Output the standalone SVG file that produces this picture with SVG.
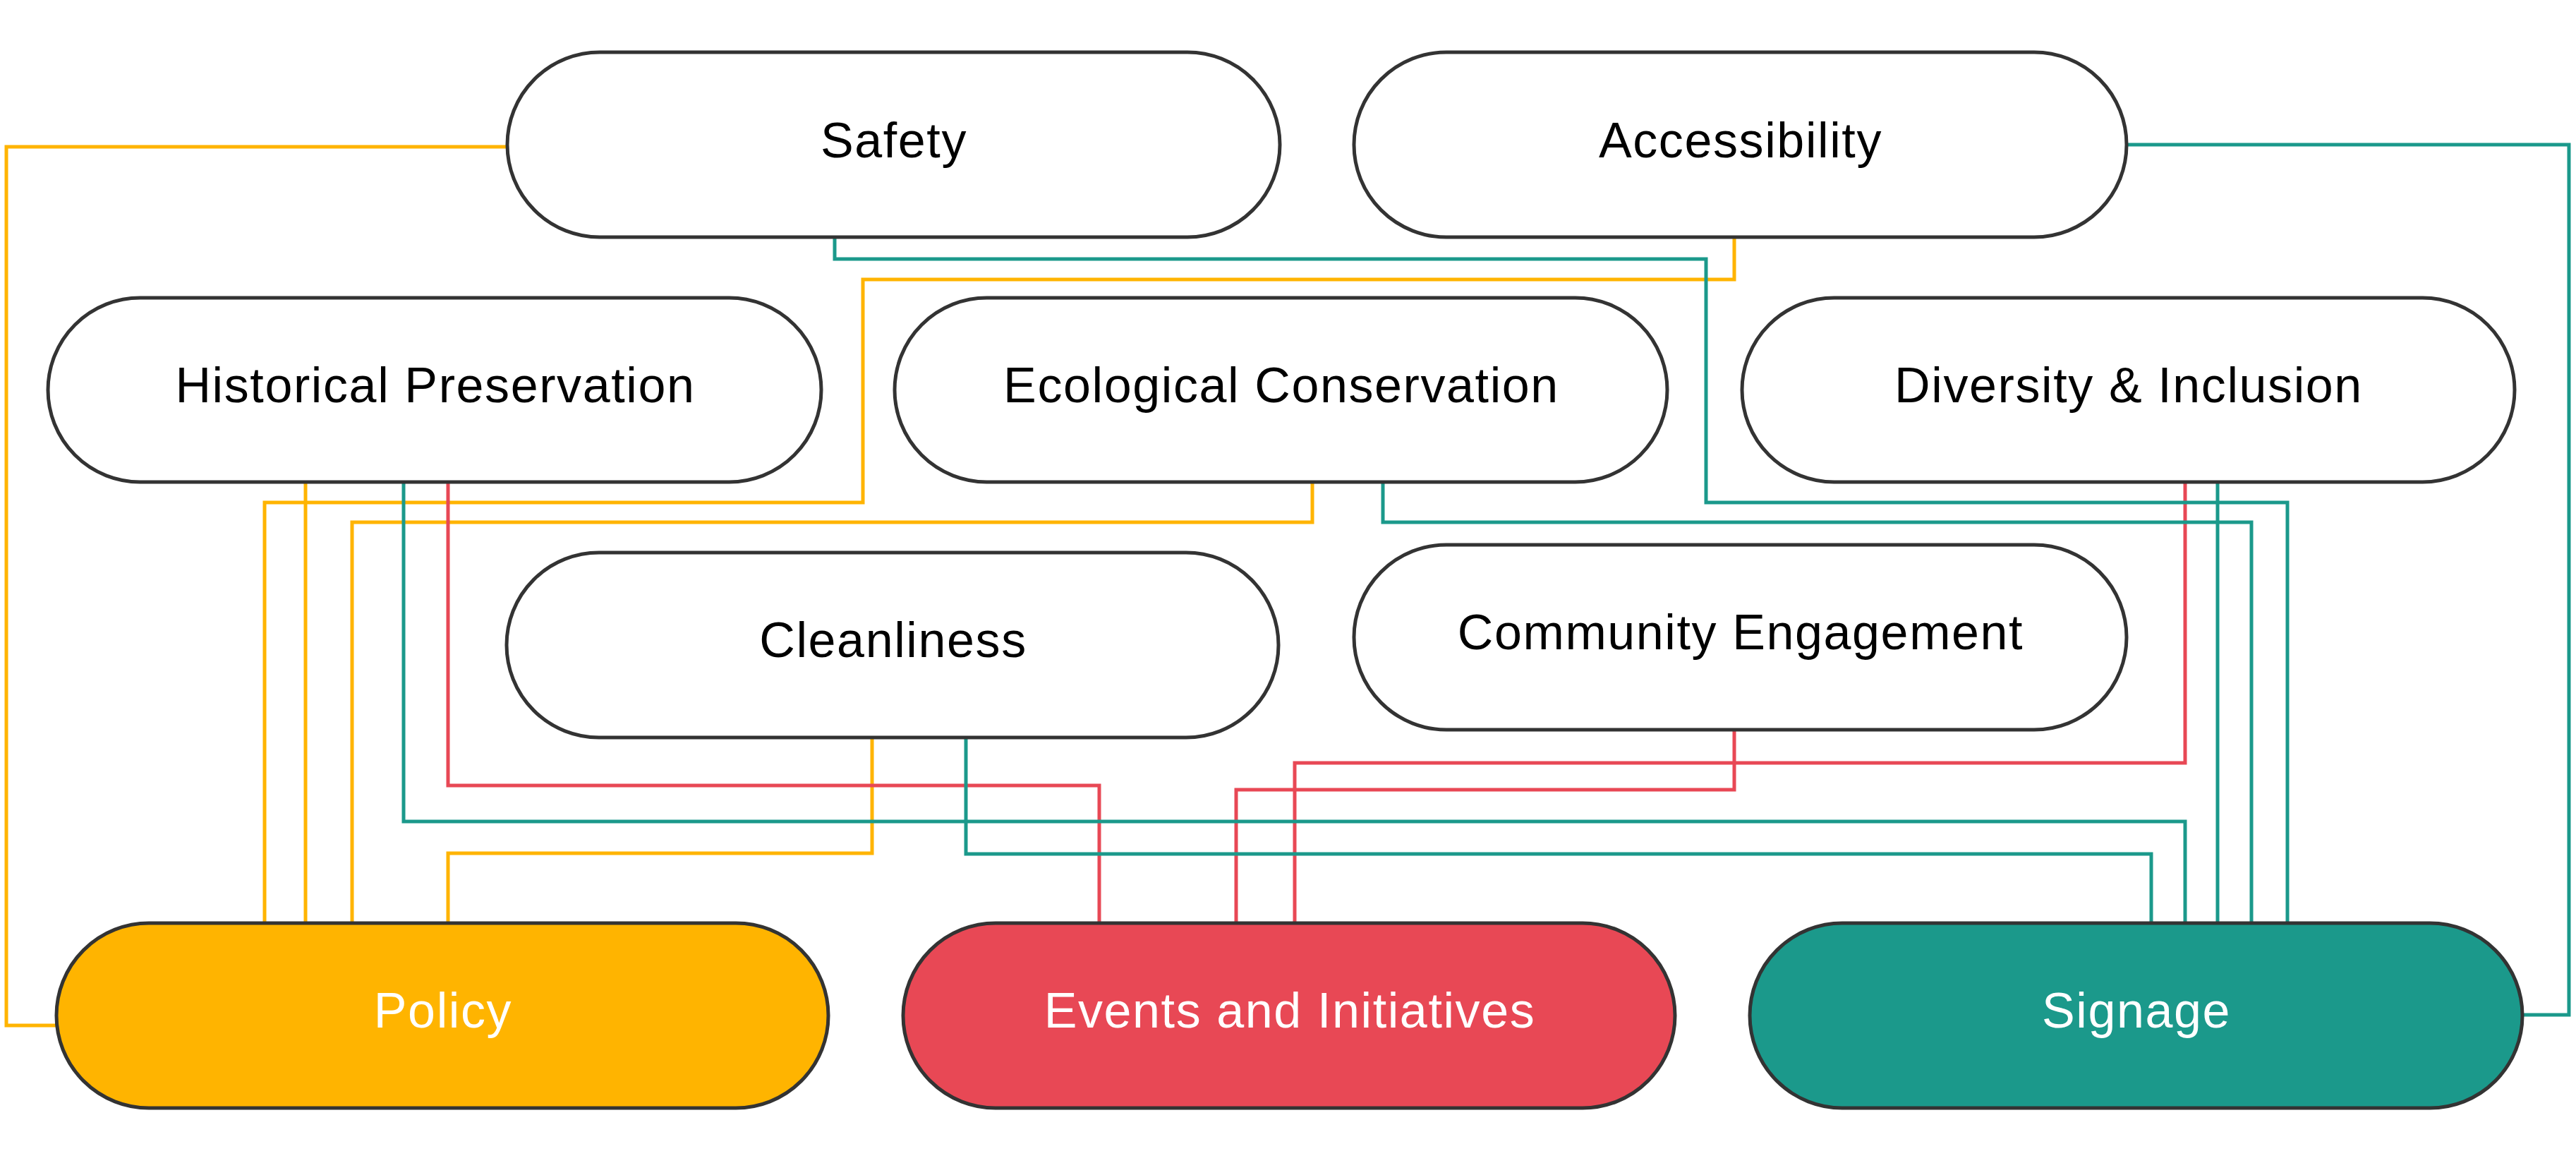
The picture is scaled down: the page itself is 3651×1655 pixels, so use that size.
<svg xmlns="http://www.w3.org/2000/svg" width="3651" height="1655" viewBox="0 0 3651 1655">
<style>
.node rect{stroke:#333333;stroke-width:5}
.plain rect{fill:#ffffff}
.lbl{font-family:"Liberation Sans",Arial,sans-serif;font-size:70px;letter-spacing:1.6px;text-anchor:middle;fill:#000000}
.inv .lbl{fill:#ffffff}
.edge{fill:none;stroke-width:5;stroke-linejoin:miter;stroke-linecap:butt}
.y{stroke:#FFB400}
.t{stroke:#1B998B}
.r{stroke:#E84855}
</style>
<rect width="3651" height="1655" fill="#ffffff"/>
<g id="connectors">
<path class="edge y" d="M719,208 H9 V1453 H80"/>
<path class="edge y" d="M2458,336 V396 H1223 V712 H375 V1308"/>
<path class="edge y" d="M433,683 V1308"/>
<path class="edge y" d="M1860,683 V740 H499 V1308"/>
<path class="edge y" d="M1236,1045 V1209 H635 V1308"/>
<path class="edge r" d="M635,683 V1113 H1558 V1308"/>
<path class="edge r" d="M3097,683 V1081 H1835 V1308"/>
<path class="edge r" d="M2458,1034 V1119 H1752 V1308"/>
<path class="edge t" d="M1183,336 V367 H2418 V712 H3242 V1308"/>
<path class="edge t" d="M3014,205 H3641 V1438 H3575"/>
<path class="edge t" d="M1960,683 V740 H3191 V1308"/>
<path class="edge t" d="M3143,683 V1308"/>
<path class="edge t" d="M572,683 V1164 H3097 V1308"/>
<path class="edge t" d="M1369,1045 V1210 H3049 V1308"/>
</g>
<g id="safety" class="node plain">
<rect x="719" y="74" width="1095" height="262" rx="131"/>
<text class="lbl" x="1267" y="223">Safety</text>
</g>
<g id="accessibility" class="node plain">
<rect x="1919" y="74" width="1095" height="262" rx="131"/>
<text class="lbl" x="2467" y="223">Accessibility</text>
</g>
<g id="historical-preservation" class="node plain">
<rect x="68" y="422" width="1096" height="261" rx="130.5"/>
<text class="lbl" x="617" y="570">Historical Preservation</text>
</g>
<g id="ecological-conservation" class="node plain">
<rect x="1268" y="422" width="1095" height="261" rx="130.5"/>
<text class="lbl" x="1816" y="570">Ecological Conservation</text>
</g>
<g id="diversity-inclusion" class="node plain">
<rect x="2469" y="422" width="1095" height="261" rx="130.5"/>
<text class="lbl" x="3017" y="570">Diversity &amp; Inclusion</text>
</g>
<g id="cleanliness" class="node plain">
<rect x="718" y="783" width="1094" height="262" rx="131"/>
<text class="lbl" x="1266" y="931">Cleanliness</text>
</g>
<g id="community-engagement" class="node plain">
<rect x="1919" y="772" width="1095" height="262" rx="131"/>
<text class="lbl" x="2467" y="920">Community Engagement</text>
</g>
<g id="policy" class="node inv">
<rect x="80" y="1308" width="1094" height="262" rx="131" fill="#FFB400"/>
<text class="lbl" x="628" y="1456">Policy</text>
</g>
<g id="events-initiatives" class="node inv">
<rect x="1280" y="1308" width="1094" height="262" rx="131" fill="#E84855"/>
<text class="lbl" x="1828" y="1456">Events and Initiatives</text>
</g>
<g id="signage" class="node inv">
<rect x="2480" y="1308" width="1095" height="262" rx="131" fill="#1B998B"/>
<text class="lbl" x="3028" y="1456">Signage</text>
</g>
</svg>
